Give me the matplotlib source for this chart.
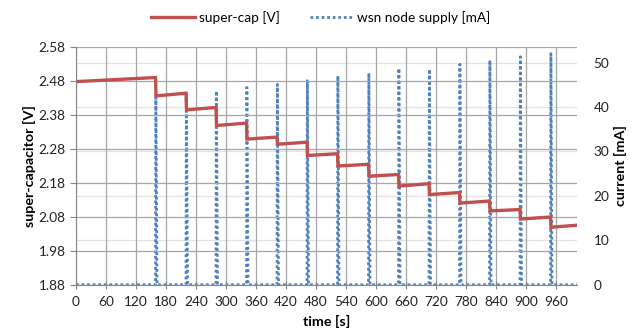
import numpy as np
import matplotlib
matplotlib.use('Agg')
import matplotlib.pyplot as plt

plt.rcParams['font.family'] = ['Lato', 'DejaVu Sans']

# pulse times [s] and peak current [mA]
pulse_t = [159, 220, 280, 341, 402, 462, 523, 585, 645, 706, 767, 827, 888, 949]
pulse_peak = [42.2, 42.9, 43.6, 44.4, 45.1, 45.9, 47.0, 47.6, 48.7, 48.5, 49.6, 50.5, 51.3, 52.0]

# super-cap voltage just before / just after each pulse [V]
v_before = [2.489, 2.443, 2.401, 2.355, 2.314, 2.299, 2.265, 2.234, 2.204, 2.177, 2.151, 2.126, 2.101, 2.079]
v_after = [2.435, 2.394, 2.348, 2.308, 2.293, 2.260, 2.229, 2.199, 2.170, 2.145, 2.120, 2.097, 2.073, 2.049]
t_start, v_start = 0, 2.477
t_end, v_end = 1002, 2.055

x_ticks = list(range(0, 1000, 60))
v_ticks = [1.88, 1.98, 2.08, 2.18, 2.28, 2.38, 2.48, 2.58]
i_ticks = [0, 10, 20, 30, 40, 50]

red = '#C0504D'
blue = '#4F81BD'

# build the step curve of the voltage
vt = [t_start]
vv = [v_start]
for t, b, a in zip(pulse_t, v_before, v_after):
    vt += [t, t + 1]
    vv += [b, a]
vt.append(t_end)
vv.append(v_end)

# build the current pulses
it = [t_start]
iv = [0]
for t, p in zip(pulse_t, pulse_peak):
    it += [t, t + 0.7, t + 3]
    iv += [0, p, 0]
it.append(t_end)
iv.append(0)

fig = plt.figure(figsize=(6.42, 3.35), dpi=100)
ax = fig.add_axes([0.1184, 0.150, 0.7804, 0.711])
ax2 = ax.twinx()
ax.set_zorder(ax2.get_zorder() + 1)
ax.patch.set_visible(False)

l2, = ax2.plot(it, iv, color=blue, lw=2, linestyle=(0, (1, 1)), label='wsn node supply [mA]')
l1, = ax.plot(vt, vv, color=red, lw=2.4, label='super-cap [V]', solid_joinstyle='miter')

ax.set_xlim(0, 1002)
ax.set_ylim(1.88, 2.58)
ax2.set_ylim(0, 53.6)
ax.set_xticks(x_ticks)
ax.set_yticks(v_ticks)
ax.set_yticklabels(['%.2f' % v for v in v_ticks])
ax2.set_yticks(i_ticks)

ax.grid(True, color='#A6A6A6', lw=0.9)
ax2.grid(True, axis='y', color='#E3E3E3', lw=0.9)
ax2.set_axisbelow(True)
ax.set_axisbelow(True)

for s in ['top', 'right']:
    ax.spines[s].set_visible(False)
for s in ['top', 'right', 'left', 'bottom']:
    ax2.spines[s].set_visible(False)
ax.spines['left'].set_color('#868686')
ax.spines['bottom'].set_color('#868686')
ax.tick_params(axis='both', colors='#868686', labelcolor='#222222', labelsize=9.8, length=4, direction='out')
ax.tick_params(axis='x', direction='inout', length=6, pad=5)
ax2.tick_params(axis='y', length=0, labelsize=9.8, labelcolor='#222222', pad=12)

ax.set_xlabel('time [s]', fontsize=10.3, fontweight='bold', labelpad=5)
ax.set_ylabel('super-capacitor [V]', fontsize=10.3, fontweight='bold', labelpad=2)
ax2.set_ylabel('current [mA]', fontsize=10.3, fontweight='bold', labelpad=3)

fig.legend(handles=[l1, l2], loc='upper center', bbox_to_anchor=(0.5, 1.005), ncol=2,
           frameon=False, fontsize=9.8, handlelength=3.2, columnspacing=2.2, handletextpad=0.3)

fig.savefig('out.png', dpi=100)
